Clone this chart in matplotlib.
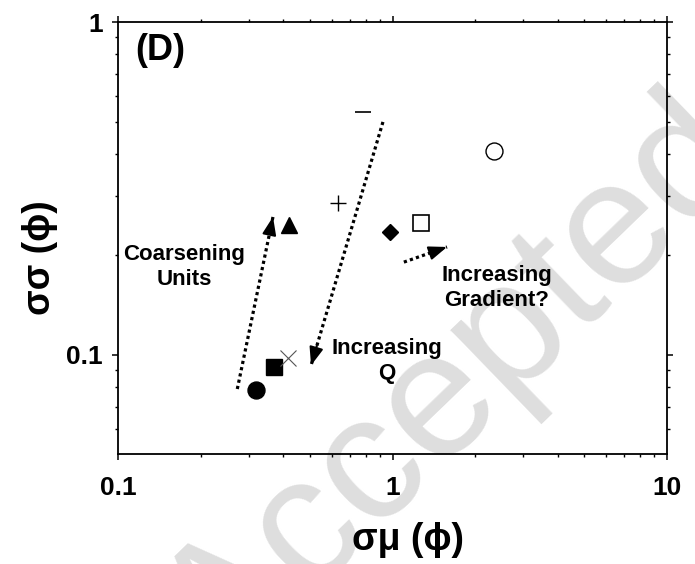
import numpy as np
import matplotlib
matplotlib.use("Agg")
import matplotlib.pyplot as plt

plt.rcParams['font.family'] = ['Liberation Sans', 'DejaVu Sans']

# data: (sigma_mu, sigma_sigma) for each marker
filled_circle = (0.318, 0.0785)
filled_square = (0.370, 0.092)
x_marker = (0.416, 0.098)
filled_triangle = (0.42, 0.245)
plus_marker = (0.632, 0.286)
minus_marker = (0.78, 0.537)
filled_diamond = (0.98, 0.234)
open_square = (1.27, 0.249)
open_circle = (2.34, 0.410)

# arrows: start -> end
arrow_coarsening = [(0.272, 0.079), (0.367, 0.26)]
arrow_q = [(0.923, 0.501), (0.505, 0.093)]
arrow_gradient = [(1.10, 0.190), (1.58, 0.211)]

x_ticks = [0.1, 1, 10]
x_ticklabels = ["0.1", "1", "10"]
y_ticks = [0.1, 1]
y_ticklabels = ["0.1", "1"]

fig = plt.figure(figsize=(6.95, 5.64), dpi=100)
ax = fig.add_axes([118/695, 1-454/564, (667-118)/695, (454-22)/564])
ax.set_xscale('log')
ax.set_yscale('log')
ax.set_xlim(0.1, 10)
ax.set_ylim(0.0504, 1)

# watermark (behind everything)
fig.text(0.66, 0.31, "Accepted", rotation=44, fontsize=128, color='#dedede',
         ha='center', va='center', zorder=-5)
ax.set_facecolor('none')

ms = 12.2
ax.plot(*filled_circle, 'o', ms=ms, color='black')
ax.plot(*filled_square, 's', ms=ms, color='black')
ax.plot(*x_marker, 'x', ms=ms, color='#555555', mew=0.8)
ax.plot(*filled_triangle, '^', ms=ms, color='black')
ax.plot(*plus_marker, '+', ms=ms, color='black', mew=1.0)
ax.plot(*minus_marker, '_', ms=ms, color='black', mew=1.2)
ax.plot(*filled_diamond, 'D', ms=8.6, color='black')
ax.plot(*open_square, 's', ms=ms, mfc='white', mec='black', mew=1.2)
ax.plot(*open_circle, 'o', ms=ms, mfc='white', mec='black', mew=1.0)

def dotted_arrow(p0, p1):
    (x0, y0), (x1, y1) = p0, p1
    ax.plot([x0, x1], [y0, y1], ls=(0, (1, 1)), lw=2.3, color='black')
    lx0, ly0, lx1, ly1 = np.log10([x0, y0, x1, y1])
    t = 0.92 if np.hypot(lx1-lx0, ly1-ly0) > 0.3 else 0.7
    xb = 10 ** (lx0 + t*(lx1-lx0))
    yb = 10 ** (ly0 + t*(ly1-ly0))
    ax.annotate('', xy=(x1, y1), xytext=(xb, yb),
                arrowprops=dict(arrowstyle='-|>,head_length=1.1,head_width=0.42',
                                color='black', lw=1.5, shrinkA=0, shrinkB=0))

dotted_arrow(*arrow_coarsening)
dotted_arrow(*arrow_q)
dotted_arrow(*arrow_gradient)

fig.text(184/695, 1-267/564, "Coarsening\nUnits", fontsize=16, fontweight='bold',
         ha='center', va='center', linespacing=1.25)
fig.text(387/695, 1-361/564, "Increasing\nQ", fontsize=16, fontweight='bold',
         ha='center', va='center', linespacing=1.25)
fig.text(497/695, 1-288/564, "Increasing\nGradient?", fontsize=16, fontweight='bold',
         ha='center', va='center', linespacing=1.25)
fig.text(160/695, 1-51/564, "(D)", fontsize=26, fontweight='bold',
         ha='center', va='center')

ax.set_xticks(x_ticks)
ax.set_xticklabels(x_ticklabels)
ax.set_yticks(y_ticks)
ax.set_yticklabels(y_ticklabels)
for lab in ax.get_xticklabels() + ax.get_yticklabels():
    lab.set_fontsize(19)
    lab.set_fontweight('bold')

ax.tick_params(which='major', direction='out', length=4, width=1.1,
               top=True, right=True)
ax.tick_params(axis='x', which='major', pad=12)
ax.tick_params(axis='y', which='major', pad=7)
ax.tick_params(which='minor', direction='out', length=2.3, width=1.0,
               top=True, right=True)
ax.yaxis.set_minor_formatter(matplotlib.ticker.NullFormatter())
ax.xaxis.set_minor_formatter(matplotlib.ticker.NullFormatter())
for s in ax.spines.values():
    s.set_linewidth(1.3)

ax.set_xlabel("σμ (ϕ)", fontsize=27, fontweight='bold')
ax.xaxis.set_label_coords((408-118)/(667-118), -(522-454)/(454-22))
ax.set_ylabel("σσ (ϕ)", fontsize=27, fontweight='bold')
ax.yaxis.set_label_coords(-(118-58)/(667-118), (454-258)/(454-22))

fig.savefig("out.png", dpi=100)
